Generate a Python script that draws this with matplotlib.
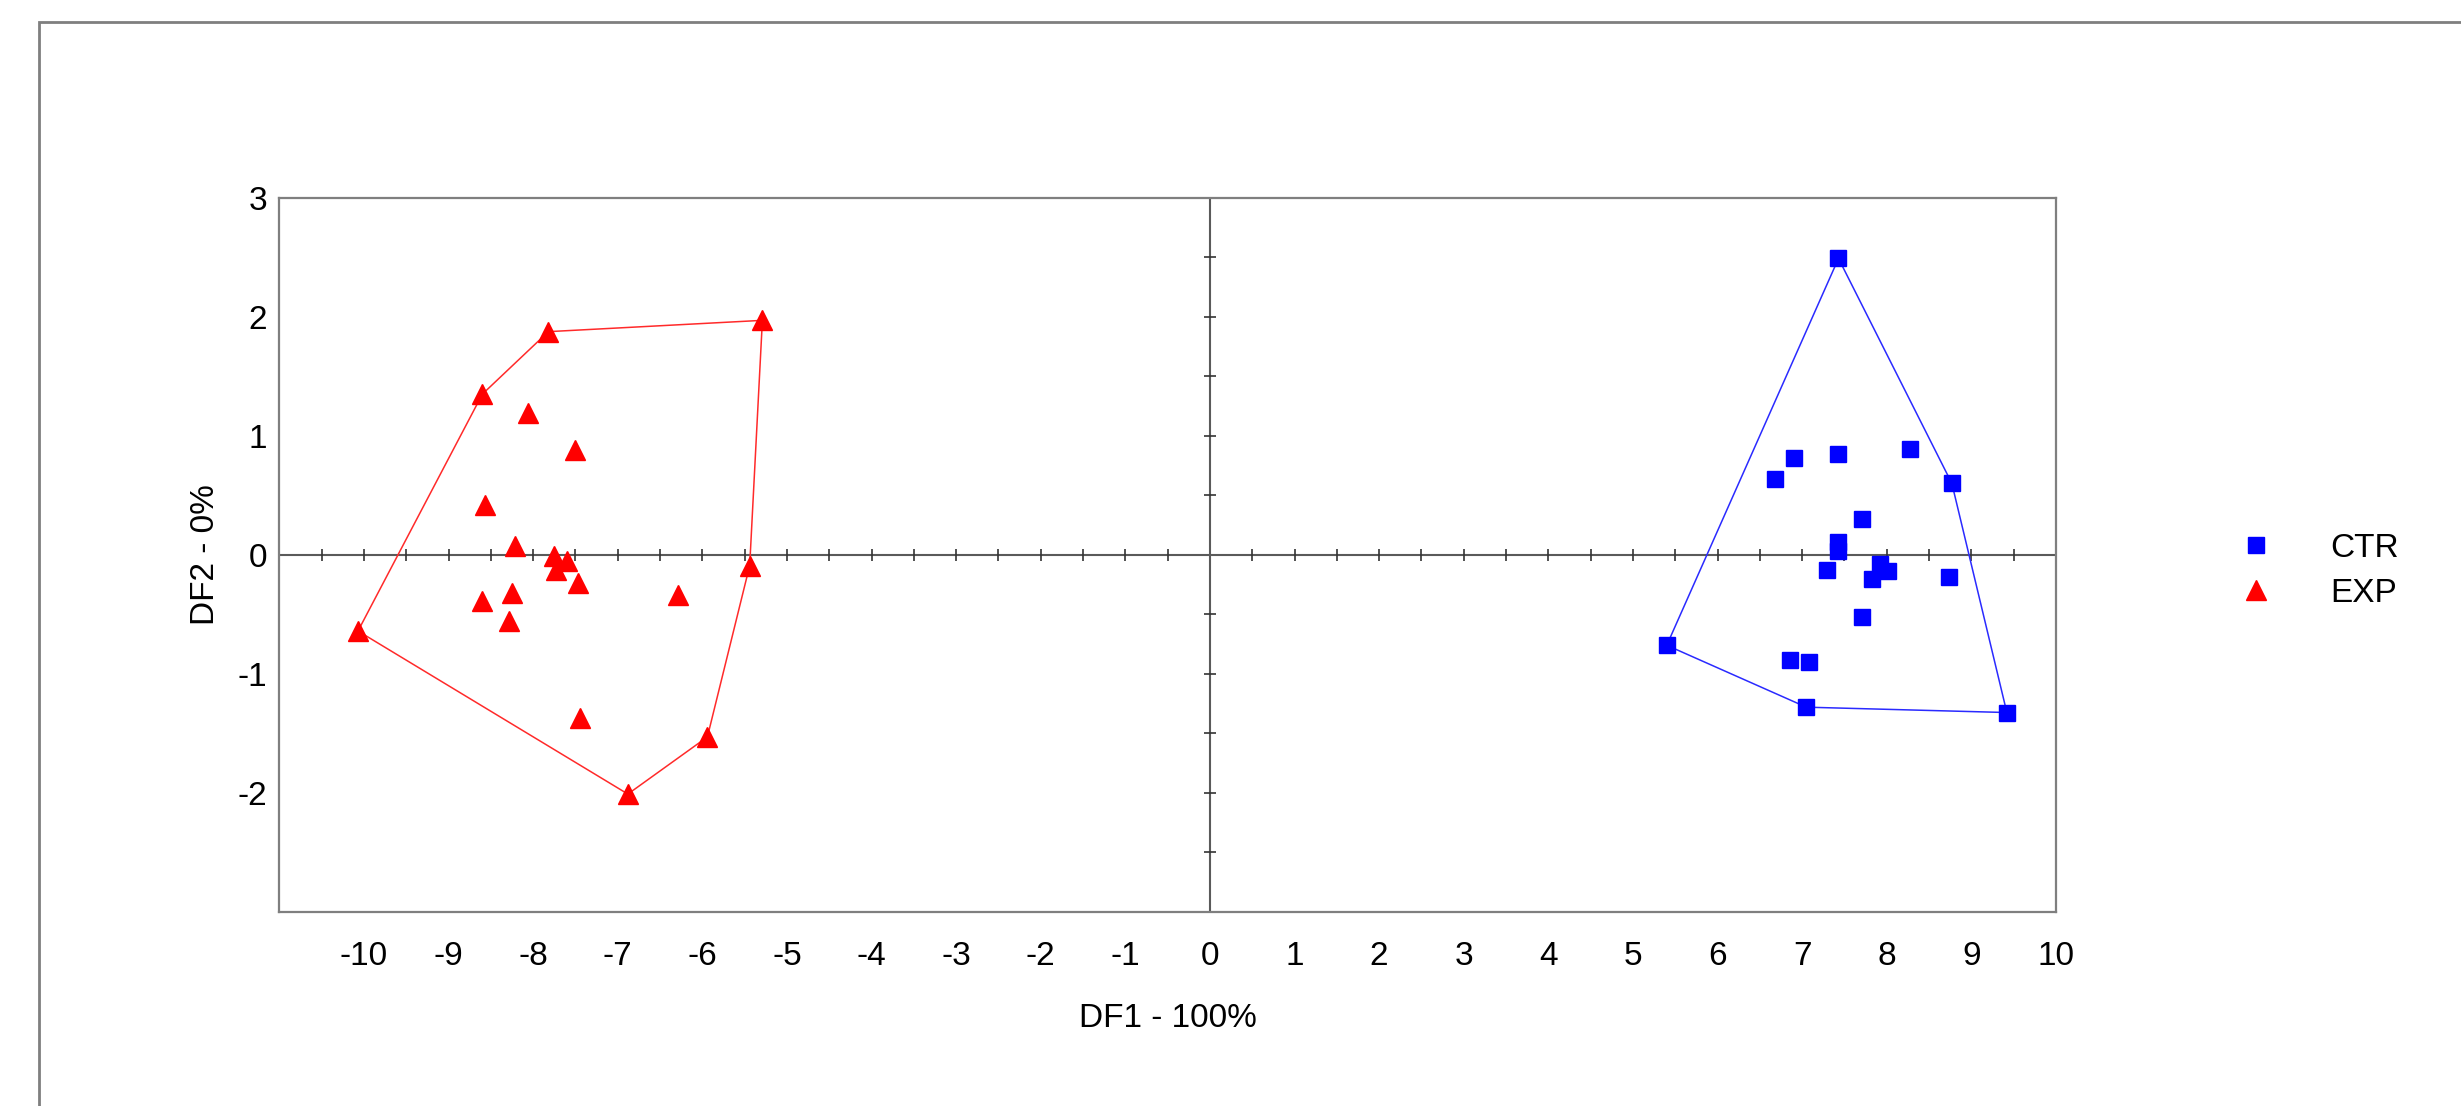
import matplotlib
matplotlib.use("Agg")
import matplotlib.pyplot as plt
from matplotlib.lines import Line2D
from matplotlib.patches import Rectangle
import numpy as np

plt.rcParams['font.family'] = ['Liberation Sans', 'DejaVu Sans']
plt.rcParams['axes.unicode_minus'] = False

# discriminant scores
ctr_x = [7.43, 6.90, 6.68, 7.43, 8.27, 8.77, 7.71, 7.43, 7.43, 7.30,
         7.92, 8.01, 7.83, 8.74, 7.71, 5.40, 6.86, 7.08, 7.05, 9.42]
ctr_y = [2.49, 0.81, 0.64, 0.85, 0.89, 0.60, 0.30, 0.105, 0.03, -0.125,
         -0.08, -0.14, -0.20, -0.19, -0.52, -0.76, -0.88, -0.90, -1.28, -1.325]

exp_x = [-10.07, -8.60, -7.82, -5.29, -8.06, -7.50, -8.57, -8.22, -7.75, -7.60,
         -7.73, -7.47, -8.25, -8.60, -8.28, -6.29, -5.44, -7.44, -5.94, -6.88]
exp_y = [-0.64, 1.35, 1.875, 1.97, 1.19, 0.88, 0.42, 0.07, -0.01, -0.05,
         -0.13, -0.24, -0.32, -0.39, -0.56, -0.34, -0.09, -1.375, -1.53, -2.01]

x_ticks = list(range(-10, 11))
y_ticks = [-2, -1, 0, 1, 2, 3]

FS = 24


def hull(xs, ys):
    pts = sorted(set(zip(xs, ys)))

    def cross(o, a, b):
        return (a[0] - o[0]) * (b[1] - o[1]) - (a[1] - o[1]) * (b[0] - o[0])

    lower, upper = [], []
    for p in pts:
        while len(lower) >= 2 and cross(lower[-2], lower[-1], p) <= 0:
            lower.pop()
        lower.append(p)
    for p in reversed(pts):
        while len(upper) >= 2 and cross(upper[-2], upper[-1], p) <= 0:
            upper.pop()
        upper.append(p)
    h = lower[:-1] + upper[:-1]
    h.append(h[0])
    return [p[0] for p in h], [p[1] for p in h]


fig = plt.figure(figsize=(24.61, 11.06), dpi=100)
ax = fig.add_axes([0.1135, 0.1755, 0.7219, 0.6457])

# outer chart-area frame (only top and left edges visible)
fig.patches.append(Rectangle((39 / 2461, -0.5), 2.0, 1.5 - 22 / 1106,
                             transform=fig.transFigure, fill=False,
                             edgecolor='#7f7f7f', lw=2))

ax.set_xlim(-11, 10)
ax.set_ylim(-3, 3)

for s in ax.spines.values():
    s.set_color('#7f7f7f')
    s.set_linewidth(1.6)

ax.axhline(0, color='#5a5a5a', lw=1.5, zorder=1)
ax.axvline(0, color='#5a5a5a', lw=1.5, zorder=1)

# little cross ticks on the zero lines
mx = [v for v in np.arange(-10.5, 10, 0.5) if v != 0]
my = [v for v in np.arange(-2.5, 3, 0.5) if v != 0]
ax.plot(mx, [0] * len(mx), ls='none', marker='|', ms=9, mew=1.2, color='#333333', zorder=1)
ax.plot([0] * len(my), my, ls='none', marker='_', ms=9, mew=1.2, color='#333333', zorder=1)

hx, hy = hull(ctr_x, ctr_y)
ax.plot(hx, hy, color='#2a2aff', lw=1.1, zorder=2)
hx, hy = hull(exp_x, exp_y)
ax.plot(hx, hy, color='#ff2a2a', lw=1.1, zorder=2)

ax.plot(ctr_x, ctr_y, ls='none', marker='s', ms=11.5, color='#0000ff', mec='#0000ff', zorder=3)
ax.plot(exp_x, exp_y, ls='none', marker='^', ms=15, color='#ff0000', mec='#ff0000', zorder=3)

ax.set_xticks(x_ticks)
ax.set_xticklabels([str(v) for v in x_ticks])
ax.set_yticks(y_ticks)
ax.set_yticklabels([str(v) for v in y_ticks])
ax.tick_params(axis='x', length=0, pad=21, labelsize=FS)
ax.tick_params(axis='y', length=0, pad=9, labelsize=FS)

ax.set_xlabel('DF1 - 100%', fontsize=FS, labelpad=22)
ax.set_ylabel('DF2 - 0%', fontsize=FS, labelpad=12)

handles = [Line2D([], [], ls='none', marker='s', ms=11.5, color='#0000ff'),
           Line2D([], [], ls='none', marker='^', ms=15, color='#ff0000')]
fig.legend(handles, ['CTR', 'EXP'], loc='center left', bbox_to_anchor=(0.903, 0.484),
           frameon=False, fontsize=FS, handlelength=2, handletextpad=1.25,
           labelspacing=0.42, borderpad=0, borderaxespad=0)

fig.savefig('out.png', dpi=100)
